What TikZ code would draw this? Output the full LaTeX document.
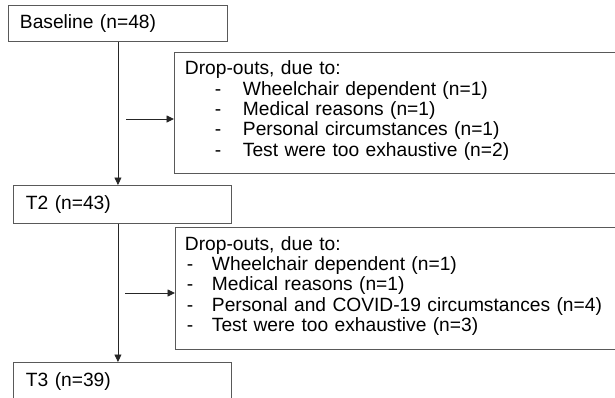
\documentclass[tikz,border=0pt]{standalone}
\usepackage{fontspec}
\setmainfont{Liberation Sans}
\usetikzlibrary{arrows.meta}
\newcommand{\dropitem}[3]{\hspace*{#1}\makebox[#2][l]{-}#3}
\newcommand{\lowend}{\rule[-9pt]{0pt}{9pt}}

\begin{document}
\begin{tikzpicture}[x=1pt,y=-1pt,
        box/.style={draw=black!65,line width=0.9pt,anchor=north west,align=left,
            inner ysep=0pt,font=\fontsize{19.2}{20.3}\selectfont},
        arr/.style={draw=black!85,line width=0.9pt,-{Triangle[length=7.5pt,width=7pt]}}
    ]
    \useasboundingbox (0,0) rectangle (615,397);
    \clip (0,0) rectangle (615,397);
    % stages
    \node[box,minimum height=36pt,text width=196pt,inner xsep=11.5pt] (base) at (8,5) {Baseline (n=48)};
    \node[box,minimum height=38pt,text width=193pt,inner xsep=12.5pt] (t2) at (13,185) {T2 (n=43)};
    \node[box,minimum height=38pt,text width=193pt,inner xsep=12.5pt] (t3) at (13,362) {T3 (n=39)};
    % drop-outs
    \node[box,minimum height=121pt,text width=430pt,inner xsep=10.5pt] (drop1) at (174,52) {Drop-outs, due to:\\
        \dropitem{30pt}{28pt}{Wheelchair dependent (n=1)}\\
        \dropitem{30pt}{28pt}{Medical reasons (n=1)}\\
        \dropitem{30pt}{28pt}{Personal circumstances (n=1)}\\
        \dropitem{30pt}{28pt}{Test were too exhaustive (n=2)}\lowend};
    \node[box,minimum height=122pt,text width=431pt,inner xsep=9.5pt] (drop2) at (175,227) {Drop-outs, due to:\\
        \dropitem{2pt}{25pt}{Wheelchair dependent (n=1)}\\
        \dropitem{2pt}{25pt}{Medical reasons (n=1)}\\
        \dropitem{2pt}{25pt}{Personal and COVID-19 circumstances (n=4)}\\
        \dropitem{2pt}{25pt}{Test were too exhaustive (n=3)}\lowend};
    % connectors
    \coordinate (gap1) at (126,119);
    \coordinate (gap2) at (125,293);
    \draw[arr] (base.south) -- (base.south |- t2.north);
    \draw[arr] (base.south |- t2.south) -- (base.south |- t3.north);
    \draw[arr] (gap1) -- (gap1 -| drop1.west);
    \draw[arr] (gap2) -- (gap2 -| drop2.west);
\end{tikzpicture}
\end{document}
